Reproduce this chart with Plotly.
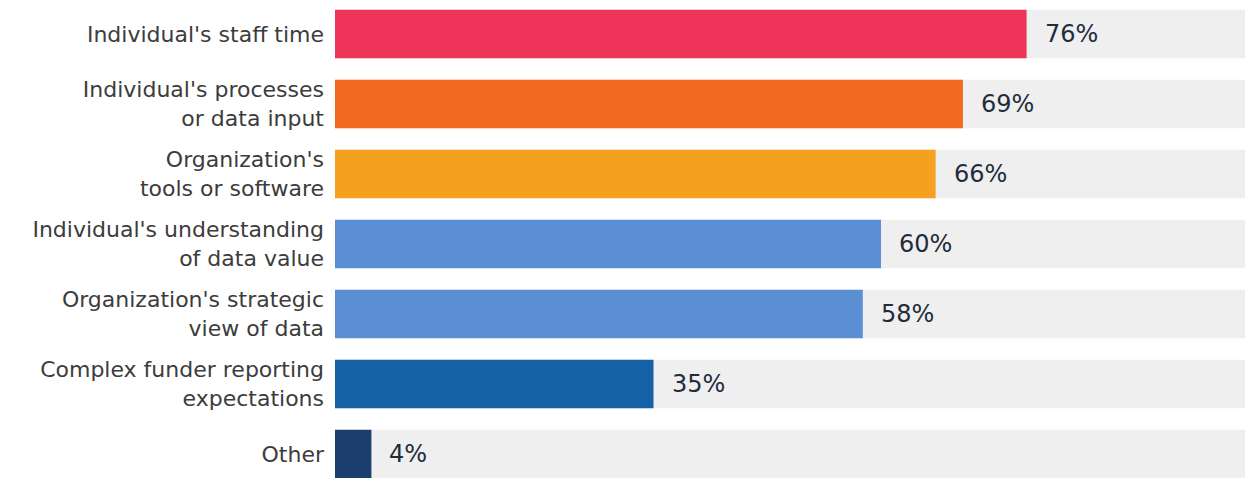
import plotly.graph_objects as go

categories = [
    "Individual's staff time",
    "Individual's processes<br>or data input",
    "Organization's<br>tools or software",
    "Individual's understanding<br>of data value",
    "Organization's strategic<br>view of data",
    "Complex funder reporting<br>expectations",
    "Other",
]
values = [76, 69, 66, 60, 58, 35, 4]
colors = ["#ef3459", "#f26a22", "#f5a01e", "#5a8fd3", "#5a8fd3", "#1660a8", "#1b3e6c"]
background_total = [100] * len(categories)

fig = go.Figure()
fig.add_trace(go.Bar(
    y=categories, x=background_total, orientation="h",
    marker=dict(color="#efefef", line=dict(width=0)),
    hoverinfo="skip", showlegend=False,
))
fig.add_trace(go.Bar(
    y=categories, x=values, orientation="h",
    marker=dict(color=colors, line=dict(width=0)),
    showlegend=False,
))

for c, v in zip(categories, values):
    fig.add_annotation(
        x=v, y=c, text=f"{v}%", showarrow=False,
        xanchor="left", xshift=16,
        font=dict(family="DejaVu Sans", size=24, color="#1f2c3b"),
    )

fig.update_layout(
    width=1245, height=478,
    margin=dict(l=335, r=0, t=0, b=0),
    paper_bgcolor="white", plot_bgcolor="white",
    barmode="overlay", bargap=0.31,
    font=dict(family="DejaVu Sans", size=22, color="#3c3c3c"),
    xaxis=dict(range=[0, 100], visible=False, showgrid=False, zeroline=False),
    yaxis=dict(
        range=[6.343, -0.486], showgrid=False, zeroline=False,
        showline=False, ticks="", ticklabelstandoff=10,
        tickfont=dict(family="DejaVu Sans", size=22, color="#3c3c3c"),
    ),
)

fig.write_html("out.html")
